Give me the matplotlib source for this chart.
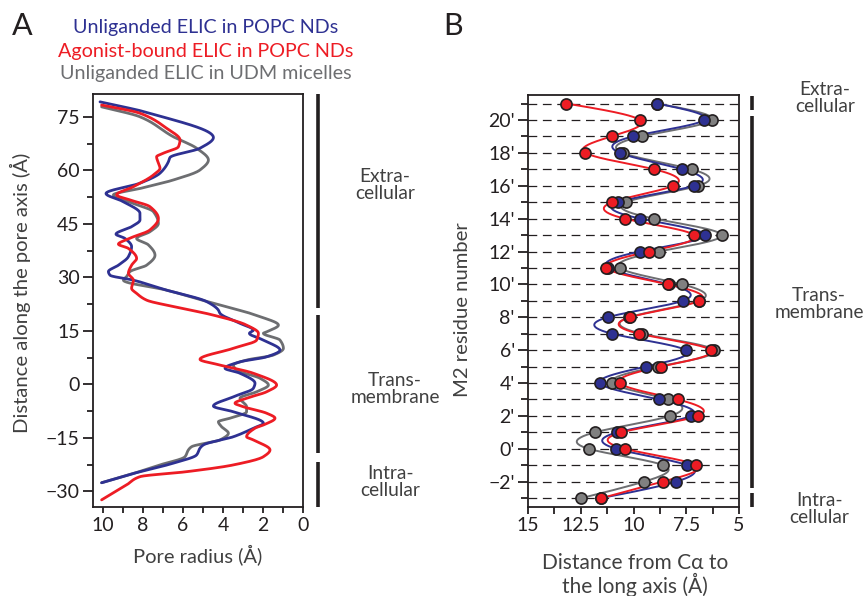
import numpy as np
import matplotlib
matplotlib.use("Agg")
import matplotlib.pyplot as plt
from matplotlib.ticker import MultipleLocator, FixedLocator
import matplotlib.transforms as mtransforms

plt.rcParams['font.family'] = ['Lato', 'DejaVu Sans']

BLUE = '#2e3192'
RED = '#ed1c24'
GRAY = '#6d6e71'

# ---------------- Panel A data: (pore radius, distance along pore axis) ----------------
blue_r = [10.15, 7.65, 4.48, 5.15, 6.65, 6.73, 7.15, 8.15, 9.85, 8.98, 8.15, 8.15, 8.57, 9.35, 8.9,
          8.57, 8.73, 9.23, 9.73, 9.65, 8.48, 6.82, 4.82, 4.23, 4.15, 3.15, 2.48, 2.68, 1.98, 1.15,
          1.82, 3.15, 3.9, 3.15, 2.4, 2.48, 3.48, 4.48, 3.48, 1.98, 2.48, 3.48, 4.98, 5.15, 5.32,
          6.48, 8.48, 10.07]
blue_d = [79.2, 76.0, 69.2, 66.2, 63.6, 62.4, 59.2, 56.4, 53.5, 51.2, 47.9, 46.1, 44.2, 42.1, 40.9,
          38.6, 35.8, 33.4, 31.6, 30.6, 29.2, 26.4, 23.2, 20.8, 19.9, 17.1, 15.2, 14.3, 12.4, 9.6,
          7.7, 6.3, 4.5, 3.1, 0.3, -1.1, -3.5, -6.1, -7.7, -10.9, -12.3, -14.7, -17.0, -17.9, -19.8,
          -22.1, -25.0, -27.6]

red_r = [10.07, 8.15, 6.82, 6.15, 6.23, 6.98, 7.32, 7.23, 7.15, 7.48, 8.48, 9.32, 8.65, 7.65, 7.23,
         7.65, 8.82, 9.23, 8.73, 8.32, 8.57, 8.73, 8.48, 8.57, 8.32, 7.82, 6.48, 4.48, 2.82, 2.23,
         2.32, 3.48, 5.15, 4.15, 2.48, 1.32, 1.82, 2.82, 3.4, 2.98, 1.82, 1.4, 1.98, 2.4, 2.82,
         2.48, 1.65, 1.98, 3.48, 5.82, 8.15, 8.82, 10.07]
red_d = [78.3, 76.0, 71.8, 68.5, 66.6, 64.8, 63.8, 62.0, 60.6, 58.7, 55.4, 53.1, 51.7, 49.8, 46.5,
         43.3, 40.6, 39.3, 38.1, 35.3, 33.4, 31.1, 29.2, 26.9, 25.5, 23.6, 21.8, 19.4, 16.6, 14.3,
         12.4, 10.1, 7.0, 5.4, 3.1, -0.2, -2.1, -3.9, -5.3, -6.3, -8.1, -9.5, -11.4, -12.3, -14.7,
         -15.6, -18.4, -20.3, -22.6, -24.5, -25.9, -28.2, -32.4]

gray_r = [10.07, 8.15, 6.48, 5.32, 4.73, 5.15, 6.48, 8.15, 9.48, 8.48, 7.48, 7.23, 7.65, 8.32, 7.73,
          7.4, 7.82, 8.65, 8.82, 8.98, 6.82, 4.48, 2.15, 1.23, 1.82, 1.98, 1.15, 0.98, 1.48, 2.82,
          3.48, 3.32, 2.15, 1.73, 2.32, 3.15, 2.82, 2.82, 3.65, 4.23, 4.07, 3.73, 4.15, 5.57, 5.73,
          5.9, 7.15, 8.48, 10.07]
gray_d = [77.8, 75.0, 69.4, 66.2, 62.9, 60.1, 57.3, 54.9, 53.1, 50.7, 48.4, 45.1, 42.8, 40.9, 39.1,
          36.2, 33.4, 31.6, 30.2, 29.2, 26.4, 22.7, 19.0, 16.6, 14.7, 14.3, 12.4, 10.1, 8.2, 6.8,
          5.4, 4.0, 1.7, -0.2, -2.1, -3.9, -6.3, -7.7, -9.5, -10.5, -11.9, -13.7, -15.6, -17.5, -18.4,
          -20.3, -22.6, -25.0, -27.6]

# ---------------- Panel B data: Calpha distance per M2 residue ----------------
residues = [-3, -2, -1, 0, 1, 2, 3, 4, 5, 6, 7, 8, 9, 10, 11, 12, 13, 14, 15, 16, 17, 18, 19, 20, 21]
blue_ca = [11.55, 7.99, 7.45, 10.81, 10.76, 7.29, 8.80, 11.60, 9.41, 7.52, 11.01, 11.23, 7.67, 8.30,
           11.20, 9.70, 6.61, 9.67, 10.73, 7.14, 7.69, 10.65, 10.02, 6.65, 8.88]
red_ca = [11.52, 8.62, 7.04, 10.41, 10.57, 6.96, 7.91, 10.65, 8.70, 6.33, 9.73, 10.17, 6.88, 8.35,
          11.28, 9.27, 7.12, 10.41, 11.01, 8.12, 9.02, 12.28, 11.04, 9.70, 13.18]
gray_ca = [12.47, 9.51, 8.59, 12.12, 11.83, 8.27, 8.35, 11.01, 8.83, 6.17, 9.59, 10.20, 6.90, 7.69,
           10.65, 8.80, 5.82, 9.02, 10.36, 6.93, 7.25, 10.52, 9.62, 6.30, 8.90]

ytick_vals_B = [-2, 0, 2, 4, 6, 8, 10, 12, 14, 16, 18, 20]
ytick_labels_B = ["\u22122'", "0'", "2'", "4'", "6'", "8'", "10'", "12'", "14'", "16'", "18'", "20'"]
xtick_vals_B = [15, 12.5, 10, 7.5, 5]
xtick_labels_B = ['15', '12.5', '10', '7.5', '5']
xtick_vals_A = [10, 8, 6, 4, 2, 0]
ytick_vals_A = [75, 60, 45, 30, 15, 0, -15, -30]

legend_lines = ["Unliganded ELIC in POPC NDs", "Agonist-bound ELIC in POPC NDs",
                "Unliganded ELIC in UDM micelles"]


def natural_spline(x, y, xs):
    x = np.asarray(x, float); y = np.asarray(y, float)
    n = len(x)
    h = np.diff(x)
    A = np.zeros((n, n)); b = np.zeros(n)
    A[0, 0] = 1; A[-1, -1] = 1
    for i in range(1, n - 1):
        A[i, i - 1] = h[i - 1]
        A[i, i] = 2 * (h[i - 1] + h[i])
        A[i, i + 1] = h[i]
        b[i] = 6 * ((y[i + 1] - y[i]) / h[i] - (y[i] - y[i - 1]) / h[i - 1])
    M = np.linalg.solve(A, b)
    idx = np.clip(np.searchsorted(x, xs) - 1, 0, n - 2)
    x0 = x[idx]; x1 = x[idx + 1]; hh = x1 - x0
    t0 = x1 - xs; t1 = xs - x0
    return (M[idx] * t0 ** 3 / (6 * hh) + M[idx + 1] * t1 ** 3 / (6 * hh)
            + (y[idx] / hh - M[idx] * hh / 6) * t0 + (y[idx + 1] / hh - M[idx + 1] * hh / 6) * t1)


def pchip(x, y, xs):
    x = np.asarray(x, float); y = np.asarray(y, float)
    n = len(x)
    h = np.diff(x)
    delta = np.diff(y) / h
    d = np.zeros(n)
    for k in range(1, n - 1):
        if delta[k - 1] * delta[k] > 0:
            w1 = 2 * h[k] + h[k - 1]
            w2 = h[k] + 2 * h[k - 1]
            d[k] = (w1 + w2) / (w1 / delta[k - 1] + w2 / delta[k])
    d[0] = delta[0]; d[-1] = delta[-1]
    idx = np.clip(np.searchsorted(x, xs) - 1, 0, n - 2)
    hh = h[idx]
    t = (xs - x[idx]) / hh
    h00 = 2 * t ** 3 - 3 * t ** 2 + 1
    h10 = t ** 3 - 2 * t ** 2 + t
    h01 = -2 * t ** 3 + 3 * t ** 2
    h11 = t ** 3 - t ** 2
    return h00 * y[idx] + h10 * hh * d[idx] + h01 * y[idx + 1] + h11 * hh * d[idx + 1]


def smooth_profile(r, dist):
    dd = np.asarray(dist[::-1], float)
    rr = np.asarray(r[::-1], float)
    ds = np.linspace(dd[0], dd[-1], 1500)
    return pchip(dd, rr, ds), ds


fig = plt.figure(figsize=(8.63, 5.96), dpi=100)
SPINE = '#231f20'
TXT = '#231f20'
LAB = '#404040'
TICK_FS = 14

# ---------------- Panel A ----------------
axA = fig.add_axes([93 / 863, 1 - 507 / 596, 210 / 863, 413 / 596])
for r_, d_, col in [(gray_r, gray_d, GRAY), (blue_r, blue_d, BLUE), (red_r, red_d, RED)]:
    sr, sd = smooth_profile(r_, d_)
    axA.plot(sr, sd, color=col, lw=2.0, solid_joinstyle='round', solid_capstyle='round')
axA.set_xlim(10.5, 0)
axA.set_ylim(-34.4, 81.4)
axA.xaxis.set_major_locator(FixedLocator(xtick_vals_A))
axA.xaxis.set_minor_locator(MultipleLocator(1))
axA.yaxis.set_major_locator(FixedLocator(ytick_vals_A))
axA.yaxis.set_minor_locator(MultipleLocator(7.5))
axA.set_xticklabels([str(v) for v in xtick_vals_A])
axA.set_yticklabels([str(v).replace('-', '\u2212') for v in ytick_vals_A])
axA.tick_params(axis='both', which='both', direction='out', color=SPINE, width=1.3,
                labelsize=TICK_FS, labelcolor=TXT, pad=2.5)
axA.tick_params(axis='y', which='major', length=7)
axA.tick_params(axis='y', which='minor', length=4.5)
axA.tick_params(axis='x', which='both', length=4.5)
for s in axA.spines.values():
    s.set_color(SPINE); s.set_linewidth(1.3)
axA.set_xlabel('Pore radius (\u00c5)', fontsize=14.5, color=LAB)
axA.xaxis.set_label_coords(0.5, -(555 - 507) / 413)
axA.set_ylabel('Distance along the pore axis (\u00c5)', fontsize=14.6, color=LAB)
axA.yaxis.set_label_coords(-(93 - 20) / 210, (507 - 293) / 413)
axA.xaxis.label.set_va('center')
axA.yaxis.label.set_va('center')

trA = mtransforms.blended_transform_factory(axA.transAxes, axA.transData)
xb = (318 - 93) / 210
for y0, y1 in [(81.4, 21.4), (19.4, -19.2), (-21.8, -34.4)]:
    axA.plot([xb, xb], [y0, y1], transform=trA, color=SPINE, lw=2.6, clip_on=False,
             solid_capstyle='butt')

REG_FS = 13.8
fig.text(385 / 863, 1 - 185 / 596, 'Extra-\ncellular', ha='center', va='center',
         fontsize=REG_FS, color=LAB, linespacing=1.05)
fig.text(395 / 863, 1 - 389 / 596, 'Trans-\nmembrane', ha='center', va='center',
         fontsize=REG_FS, color=LAB, linespacing=1.05)
fig.text(390 / 863, 1 - 482 / 596, 'Intra-\ncellular', ha='center', va='center',
         fontsize=REG_FS, color=LAB, linespacing=1.05)

for txt, col, yy in zip(legend_lines, [BLUE, RED, GRAY], [28, 51, 74]):
    fig.text(206 / 863, 1 - yy / 596, txt, ha='center', va='center', fontsize=14.2, color=col)

fig.text(22 / 863, 1 - 26 / 596, 'A', ha='center', va='center', fontsize=22, color=TXT)
fig.text(453 / 863, 1 - 26 / 596, 'B', ha='center', va='center', fontsize=22, color=TXT)

# ---------------- Panel B ----------------
axB = fig.add_axes([528 / 863, 1 - 507 / 596, 211 / 863, 412 / 596])
axB.set_xlim(15, 5)
axB.set_ylim(-3.54, 21.52)
for r in residues:
    axB.axhline(r, color='#231f20', lw=0.9, dashes=(7, 4.5), zorder=1)

ys = np.linspace(min(residues), max(residues), 600)
for vals, col in [(gray_ca, GRAY), (blue_ca, BLUE), (red_ca, RED)]:
    axB.plot(natural_spline(residues, vals, ys), ys, color=col, lw=1.4, zorder=2)
for vals, col, fc in [(gray_ca, GRAY, '#808080'), (blue_ca, BLUE, BLUE), (red_ca, RED, RED)]:
    axB.plot(vals, residues, 'o', ms=8, mfc=fc, mec='#231f20', mew=1.2, zorder=3,
             linestyle='none')

axB.xaxis.set_major_locator(FixedLocator(xtick_vals_B))
axB.xaxis.set_minor_locator(MultipleLocator(1.25))
axB.set_xticklabels(xtick_labels_B)
axB.yaxis.set_major_locator(FixedLocator(ytick_vals_B))
axB.yaxis.set_minor_locator(MultipleLocator(1))
axB.set_yticklabels(ytick_labels_B)
axB.tick_params(axis='both', which='both', direction='out', color=SPINE, width=1.3,
                labelsize=TICK_FS, labelcolor=TXT, pad=2.5)
axB.tick_params(axis='y', which='major', length=7)
axB.tick_params(axis='y', which='minor', length=5)
axB.tick_params(axis='x', which='both', length=5)
for s in axB.spines.values():
    s.set_color(SPINE); s.set_linewidth(1.3)
axB.set_ylabel('M2 residue number', fontsize=14.6, color=LAB)
axB.yaxis.set_label_coords(-(528 - 462) / 211, (507 - 310) / 412)
axB.yaxis.label.set_va('center')

fig.text(635 / 863, 1 - 575 / 596, 'Distance from C\u03b1 to\nthe long axis (\u00c5)',
         ha='center', va='center', fontsize=15, color=LAB, linespacing=1.0)

trB = mtransforms.blended_transform_factory(axB.transAxes, axB.transData)
xb2 = (752 - 528) / 211
for y0, y1 in [(21.46, 20.6), (20.24, -2.38), (-2.69, -3.54)]:
    axB.plot([xb2, xb2], [y0, y1], transform=trB, color=SPINE, lw=2.6, clip_on=False,
             solid_capstyle='butt')

fig.text(825 / 863, 1 - 98 / 596, 'Extra-\ncellular', ha='center', va='center',
         fontsize=REG_FS, color=LAB, linespacing=1.05)
fig.text(819 / 863, 1 - 304 / 596, 'Trans-\nmembrane', ha='center', va='center',
         fontsize=REG_FS, color=LAB, linespacing=1.05)
fig.text(819 / 863, 1 - 509 / 596, 'Intra-\ncellular', ha='center', va='center',
         fontsize=REG_FS, color=LAB, linespacing=1.05)

fig.savefig('out.png', dpi=100)
